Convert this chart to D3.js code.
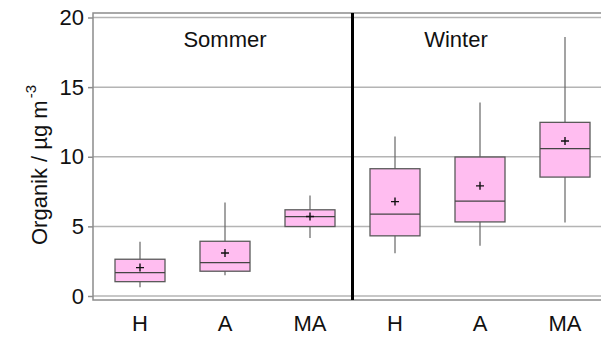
<!DOCTYPE html>
<html>
<head>
<meta charset="utf-8">
<script src="https://cdn.jsdelivr.net/npm/d3@7"></script>
<style>
  html, body { margin: 0; padding: 0; background: #fff; }
  svg { display: block; font-family: Arial, "Liberation Sans", sans-serif; }
</style>
</head>
<body>
<svg id="chart" width="601" height="337"></svg>
<script>
// Organic aerosol concentrations per site type, summer vs. winter
const seasons = ["Sommer", "Winter"];
const sites = ["H", "A", "MA"];

// Box statistics, ordered Sommer H, A, MA, then Winter H, A, MA
const whiskerLow  = [0.63, 1.49, 4.17, 3.07, 3.60, 5.27];
const q1          = [1.03, 1.78, 4.99, 4.32, 5.32, 8.54];
const median      = [1.68, 2.40, 5.70, 5.88, 6.81, 10.58];
const q3          = [2.64, 3.93, 6.19, 9.14, 9.98, 12.47];
const whiskerHigh = [3.90, 6.71, 7.22, 11.46, 13.90, 18.60];
const mean        = [2.04, 3.09, 5.71, 6.78, 7.91, 11.13];

const yTicks = [0, 5, 10, 15, 20];

const keys = [];
seasons.forEach(s => sites.forEach(c => keys.push(s + "|" + c)));
const rows = keys.map((k, i) => ({
  key: k, season: k.split("|")[0], site: k.split("|")[1],
  lo: whiskerLow[i], q1: q1[i], med: median[i], q3: q3[i], hi: whiskerHigh[i], mean: mean[i]
}));

const svg = d3.select("#chart");
const frame = { left: 93, top: 13, right: 612, bottom: 300 };
const fontSize = 22;

const x = d3.scaleBand().domain(keys).range([97.5, 607.5]).paddingInner(0).paddingOuter(0);
const y = d3.scaleLinear().domain([0, 20]).range([296, 17.5]);

const gridColor = "#b4b4b4";
const frameColor = "#8c8c8c";
const boxStroke = "#5a5a5a";
const boxFill = "#ffbdf0";

// horizontal gridlines
svg.append("g")
  .selectAll("line")
  .data(yTicks)
  .join("line")
  .attr("x1", frame.left).attr("x2", frame.right)
  .attr("y1", d => y(d)).attr("y2", d => y(d))
  .attr("stroke", gridColor).attr("stroke-width", 1.5);

// plot frame
svg.append("rect")
  .attr("x", frame.left).attr("y", frame.top)
  .attr("width", frame.right - frame.left).attr("height", frame.bottom - frame.top)
  .attr("fill", "none").attr("stroke", frameColor).attr("stroke-width", 1.5);

// y axis ticks and labels
const yAxis = d3.axisLeft(y).tickValues(yTicks).tickSize(5).tickPadding(4).tickFormat(d3.format("d"));
const gy = svg.append("g").attr("transform", `translate(${frame.left},0)`).call(yAxis);
gy.select(".domain").remove();
gy.selectAll(".tick line").attr("stroke", frameColor).attr("stroke-width", 1.5);
gy.selectAll(".tick text").attr("font-size", fontSize).attr("fill", "#111")
  .attr("font-family", "Arial, 'Liberation Sans', sans-serif");

// x axis category labels
const xAxis = d3.axisBottom(x).tickSize(0).tickPadding(15).tickFormat(k => k.split("|")[1]);
const gx = svg.append("g").attr("transform", `translate(0,${frame.bottom})`).call(xAxis);
gx.select(".domain").remove();
gx.selectAll(".tick text").attr("font-size", fontSize).attr("fill", "#111")
  .attr("font-family", "Arial, 'Liberation Sans', sans-serif");

// season divider
const divX = x(keys[3]);
svg.append("line")
  .attr("x1", divX).attr("x2", divX)
  .attr("y1", frame.top).attr("y2", frame.bottom)
  .attr("stroke", "#000").attr("stroke-width", 3);

// season titles
svg.append("text")
  .attr("x", x(keys[1]) + x.bandwidth() / 2).attr("y", 47)
  .attr("text-anchor", "middle").attr("font-size", fontSize).attr("fill", "#111")
  .text(seasons[0]);
svg.append("text")
  .attr("x", x(keys[4]) + x.bandwidth() / 2 - 24).attr("y", 47)
  .attr("text-anchor", "middle").attr("font-size", fontSize).attr("fill", "#111")
  .text(seasons[1]);

// box plots
const boxW = 50;
const g = svg.append("g").selectAll("g").data(rows).join("g")
  .attr("transform", d => `translate(${x(d.key) + x.bandwidth() / 2},0)`);

g.append("line")
  .attr("x1", 0).attr("x2", 0)
  .attr("y1", d => y(d.hi)).attr("y2", d => y(d.lo))
  .attr("stroke", "#666").attr("stroke-width", 1.2);

g.append("rect")
  .attr("x", -boxW / 2).attr("width", boxW)
  .attr("y", d => y(d.q3)).attr("height", d => y(d.q1) - y(d.q3))
  .attr("fill", boxFill).attr("stroke", boxStroke).attr("stroke-width", 1.3);

g.append("line")
  .attr("x1", -boxW / 2).attr("x2", boxW / 2)
  .attr("y1", d => y(d.med)).attr("y2", d => y(d.med))
  .attr("stroke", "#444").attr("stroke-width", 1.3);

// mean markers
g.append("path")
  .attr("d", d => `M-4,${y(d.mean)}H4M0,${y(d.mean) - 4}V${y(d.mean) + 4}`)
  .attr("stroke", "#111").attr("stroke-width", 1.4).attr("fill", "none");

// y axis title
const yt = svg.append("text")
  .attr("transform", `translate(47,${165}) rotate(-90)`)
  .attr("text-anchor", "middle").attr("font-size", fontSize).attr("fill", "#111");
yt.append("tspan").text("Organik / µg m");
yt.append("tspan").attr("dy", -11).attr("dx", 2).attr("font-size", 15).text("-3");
</script>
</body>
</html>
